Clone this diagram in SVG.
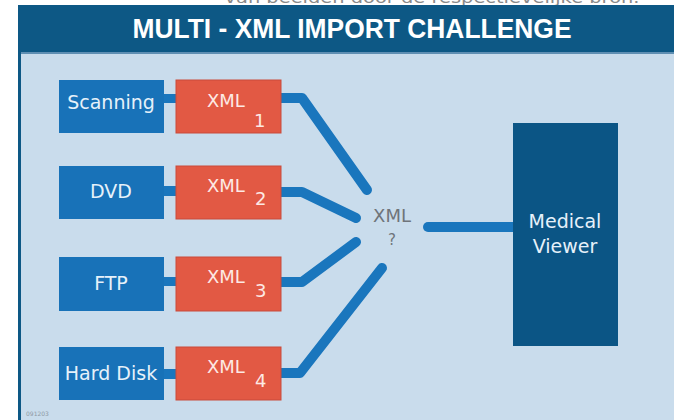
<svg xmlns="http://www.w3.org/2000/svg" width="674" height="420" viewBox="0 0 674 420">
<style>
.src{fill:#1872b8}
.xml{fill:#e25944;stroke:#c94a3a;stroke-width:1}
.lbl{font-family:"DejaVu Sans","Liberation Sans",sans-serif;fill:#e6f1fa;font-size:19px;text-anchor:middle}
.xt{font-family:"DejaVu Sans","Liberation Sans",sans-serif;fill:#fde9e4;font-size:18px}
.conn{fill:none;stroke:#1a76bd;stroke-width:10;stroke-linecap:round;stroke-linejoin:round}
.bar{fill:#1a76bd}
</style>
<rect width="674" height="420" fill="#ffffff"/>
<text x="432" y="3" font-family="DejaVu Sans,sans-serif" font-size="16" fill="#8a8a8a" text-anchor="middle" textLength="415" lengthAdjust="spacingAndGlyphs">van beelden door de respectievelijke bron.</text>
<rect x="18" y="5" width="656" height="415" fill="#0d5885"/>
<rect x="21" y="52" width="653" height="2" fill="#5f8fb3"/>
<rect x="21" y="54" width="653" height="366" fill="#c9dcec"/>
<text x="352" y="38" font-family="Liberation Sans,Arial,sans-serif" font-weight="bold" font-size="27" fill="#ffffff" text-anchor="middle" textLength="439" lengthAdjust="spacingAndGlyphs">MULTI - XML IMPORT CHALLENGE</text>

<g id="connectors">
<rect class="bar" x="163" y="94" width="14" height="9"/>
<rect class="bar" x="163" y="186" width="14" height="10"/>
<rect class="bar" x="163" y="277" width="14" height="9"/>
<rect class="bar" x="163" y="369" width="14" height="10"/>
<polyline class="conn" points="278,98 302,98 367,190"/>
<polyline class="conn" points="278,192 302,192 356,218"/>
<polyline class="conn" points="356,242 302,282 278,282"/>
<polyline class="conn" points="382,268 300,373 278,373"/>
<line class="conn" x1="428" y1="227" x2="515" y2="227"/>
</g>

<g id="scanning"><rect class="src" x="59" y="80" width="105" height="53"/><text class="lbl" x="111" y="109">Scanning</text></g>
<g id="dvd"><rect class="src" x="59" y="166" width="105" height="53"/><text class="lbl" x="111" y="198">DVD</text></g>
<g id="ftp"><rect class="src" x="59" y="257" width="105" height="54"/><text class="lbl" x="111" y="290">FTP</text></g>
<g id="harddisk"><rect class="src" x="59" y="347" width="105" height="53"/><text class="lbl" x="111" y="380">Hard Disk</text></g>

<g id="xml1"><rect class="xml" x="176" y="80" width="105" height="53"/><text class="xt" x="207" y="107">XML</text><text class="xt" x="254" y="127">1</text></g>
<g id="xml2"><rect class="xml" x="176" y="166" width="105" height="53"/><text class="xt" x="207" y="192">XML</text><text class="xt" x="255" y="205">2</text></g>
<g id="xml3"><rect class="xml" x="176" y="257" width="105" height="54"/><text class="xt" x="207" y="283">XML</text><text class="xt" x="255" y="297">3</text></g>
<g id="xml4"><rect class="xml" x="176" y="347" width="105" height="53"/><text class="xt" x="207" y="373">XML</text><text class="xt" x="255" y="387">4</text></g>

<g id="xmlq"><text x="392" y="222" font-family="DejaVu Sans,sans-serif" font-size="18" fill="#6f747a" text-anchor="middle">XML</text><text x="392" y="245" font-family="DejaVu Sans,sans-serif" font-size="15" fill="#6f747a" text-anchor="middle">?</text></g>

<g id="viewer"><rect x="513" y="123" width="105" height="223" fill="#0b5585"/><text class="lbl" x="565" y="228">Medical</text><text class="lbl" x="565" y="253">Viewer</text></g>

<text x="26" y="416" font-family="DejaVu Sans,sans-serif" font-size="6" fill="#8f9aa5">091203</text>
</svg>
